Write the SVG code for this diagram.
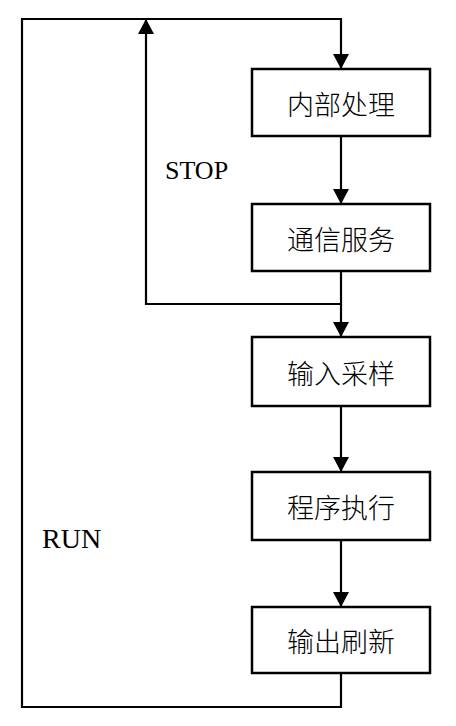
<svg xmlns="http://www.w3.org/2000/svg" width="456" height="726" viewBox="0 0 456 726">
<style>
.box{fill:#fff;stroke:#000;stroke-width:2.5}
.t{font-family:"Noto Sans CJK SC",sans-serif;font-size:27px;font-weight:300;text-anchor:middle;dominant-baseline:central;fill:#000}
.l{font-family:"Liberation Serif",serif;font-size:26px;fill:#000}
.c{fill:none;stroke:#000;stroke-width:2.2}
</style>
<defs>
<marker id="ah" viewBox="0 0 15 16" refX="15" refY="8" markerWidth="15" markerHeight="16" markerUnits="userSpaceOnUse" orient="auto">
<path d="M0,0 L15,8 L0,16 Z" fill="#000"/>
</marker>
</defs>
<rect width="456" height="726" fill="#fff"/>
<g id="connectors">
<path class="c" d="M341,673 V707 H22 V19 H341 V69" marker-end="url(#ah)"/>
<path class="c" d="M341,271 V304 H146 V19" marker-end="url(#ah)"/>
<path class="c" d="M341,136 V204" marker-end="url(#ah)"/>
<path class="c" d="M341,304 V337" marker-end="url(#ah)"/>
<path class="c" d="M341,406 V472" marker-end="url(#ah)"/>
<path class="c" d="M341,540 V607" marker-end="url(#ah)"/>
</g>
<g id="n1"><rect class="box" x="252" y="69" width="178" height="67"/><text class="t" x="341" y="103">内部处理</text></g>
<g id="n2"><rect class="box" x="252" y="204" width="178" height="67"/><text class="t" x="341" y="238">通信服务</text></g>
<g id="n3"><rect class="box" x="252" y="337" width="178" height="69"/><text class="t" x="341" y="372">输入采样</text></g>
<g id="n4"><rect class="box" x="252" y="472" width="178" height="68"/><text class="t" x="341" y="506">程序执行</text></g>
<g id="n5"><rect class="box" x="252" y="607" width="178" height="66"/><text class="t" x="341" y="640">输出刷新</text></g>
<g id="labels">
<text class="l" x="165" y="179">STOP</text>
<text class="l" x="42" y="548" style="font-size:28px">RUN</text>
</g>
</svg>
